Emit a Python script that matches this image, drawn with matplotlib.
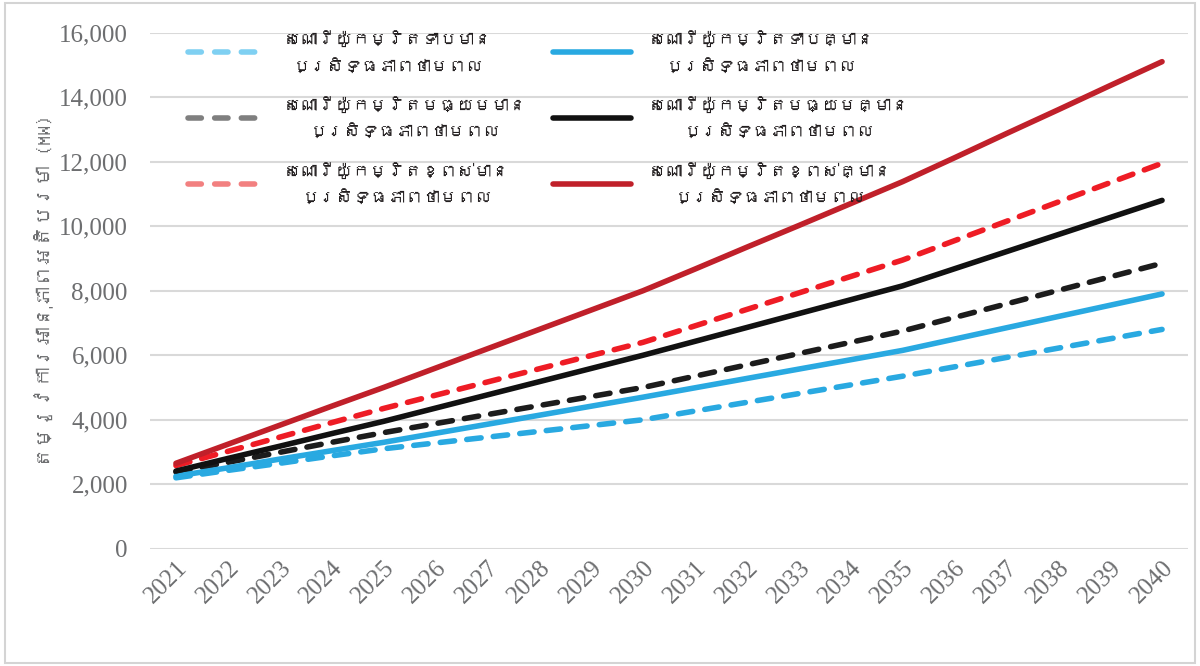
import matplotlib
matplotlib.use("Agg")
import matplotlib.pyplot as plt
from matplotlib import font_manager
from matplotlib.ft2font import FT2Font
from matplotlib.lines import Line2D
from matplotlib.patches import Rectangle
from matplotlib.ticker import FuncFormatter

years = list(range(2021, 2041))

# peak demand, MW
low_ee = [2200, 2430, 2650, 2880, 3100, 3280, 3460, 3640, 3820, 4000,
          4270, 4540, 4810, 5080, 5350, 5640, 5930, 6220, 6510, 6800]
mid_ee = [2380, 2680, 2990, 3300, 3600, 3880, 4160, 4440, 4720, 5000,
          5350, 5700, 6050, 6400, 6750, 7170, 7590, 8010, 8430, 8850]
high_ee = [2580, 3020, 3460, 3910, 4350, 4760, 5170, 5580, 5990, 6400,
           6910, 7420, 7930, 8440, 8950, 9550, 10150, 10750, 11350, 11950]
low_no = [2250, 2510, 2780, 3040, 3300, 3580, 3860, 4140, 4420, 4700,
          4990, 5280, 5570, 5860, 6150, 6500, 6850, 7200, 7550, 7900]
mid_no = [2410, 2800, 3180, 3570, 3950, 4360, 4770, 5180, 5590, 6000,
          6430, 6860, 7290, 7720, 8150, 8680, 9210, 9740, 10270, 10800]
high_no = [2650, 3240, 3830, 4420, 5000, 5600, 6200, 6800, 7400, 8000,
           8670, 9350, 10020, 10700, 11380, 12120, 12870, 13610, 14360, 15100]

labels_ee = ["សេណារីយ៉ូកម្រិតទាបមាន\nប្រសិទ្ធភាពថាមពល",
             "សេណារីយ៉ូកម្រិតមធ្យមមាន\nប្រសិទ្ធភាពថាមពល",
             "សេណារីយ៉ូកម្រិតខ្ពស់មាន\nប្រសិទ្ធភាពថាមពល"]
labels_no = ["សេណារីយ៉ូកម្រិតទាបគ្មាន\nប្រសិទ្ធភាពថាមពល",
             "សេណារីយ៉ូកម្រិតមធ្យមគ្មាន\nប្រសិទ្ធភាពថាមពល",
             "សេណារីយ៉ូកម្រិតខ្ពស់គ្មាន\nប្រសិទ្ធភាពថាមពល"]
ylabel = "តម្រូវការអានុភាពអតិបរមា (MW)"

colors_ee = ["#29a9e1", "#1c1c1c", "#ee1c25"]
colors_ee_legend = ["#7fd0f2", "#7f7f7f", "#f28080"]
colors_no = ["#29a9e1", "#111111", "#c0202a"]


def khmer_family():
    # first installed family that actually has Khmer glyphs
    for f in font_manager.fontManager.ttflist:
        try:
            if 0x1780 in FT2Font(f.fname).get_charmap():
                return f.name
        except Exception:
            pass
    return None


km = khmer_family()
km_fams = [km, "DejaVu Sans"] if km else ["DejaVu Sans"]

fig = plt.figure(figsize=(12, 6.66), dpi=100)
ax = fig.add_axes([0.125, 0.176, 0.865, 0.775])

lw = 4.0
for vals, c in zip([low_ee, mid_ee, high_ee], colors_ee):
    ax.plot(years, vals, color=c, lw=lw, dashes=(2.6, 2.2),
            solid_capstyle="round", dash_capstyle="round")
for vals, c in zip([low_no, mid_no, high_no], colors_no):
    ax.plot(years, vals, color=c, lw=lw, solid_capstyle="round")

ax.set_xlim(2020.5, 2040.5)
ax.set_ylim(0, 16000)
ax.set_xticks(years)
ax.set_yticks(range(0, 16001, 2000))
ax.yaxis.set_major_formatter(FuncFormatter(lambda v, p: f"{int(v):,}"))
ax.grid(axis="y", color="#d9d9d9", lw=1.5)
ax.set_axisbelow(True)
for s in ax.spines.values():
    s.set_visible(False)
ax.tick_params(length=0, colors="#6d6e70", labelsize=18)
ax.tick_params(axis="y", pad=16)
ax.tick_params(axis="x", pad=6)
for t in ax.get_xticklabels() + ax.get_yticklabels():
    t.set_family("Liberation Serif")
plt.setp(ax.get_xticklabels(), rotation=45, ha="right", rotation_mode="anchor")

ax.set_ylabel(ylabel, family=km_fams, fontsize=14.5, fontweight="bold",
              color="#6d6e70", labelpad=4)

handles = []
for c in colors_ee_legend:
    handles.append(Line2D([], [], color=c, lw=lw, dashes=(2.4, 2.4),
                          dash_capstyle="round"))
for c in colors_no:
    handles.append(Line2D([], [], color=c, lw=lw, solid_capstyle="round"))
leg = ax.legend(handles, labels_ee + labels_no, ncol=2, frameon=False,
                loc="upper left", bbox_to_anchor=(0.022, 1.035),
                handlelength=4.5, handletextpad=1.0, columnspacing=1.5,
                labelspacing=1.3, prop={"family": km_fams, "size": 12.5})
for t in leg.get_texts():
    t.set_multialignment("center")
    t.set_linespacing(1.75)
    t.set_color("#231f20")

fig.patches.append(Rectangle((0.004, 0.005), 0.992, 0.99, transform=fig.transFigure,
                             fill=False, edgecolor="#d4d4d4", lw=1.5))

fig.savefig("out.png", dpi=100)
